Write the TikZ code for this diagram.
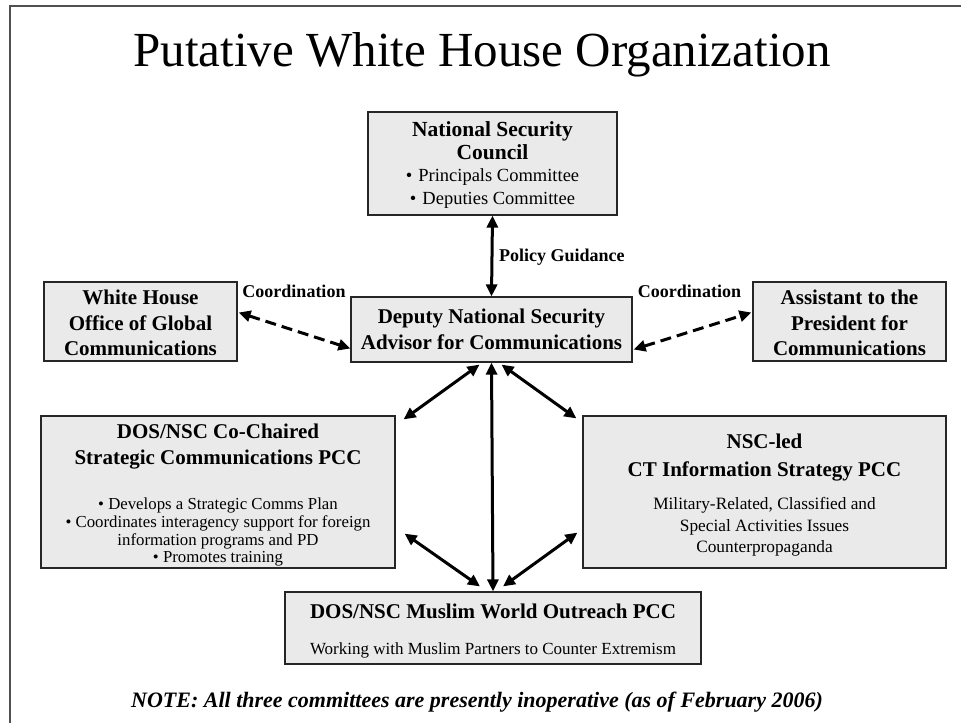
\documentclass[tikz,border=0pt]{standalone}
\usepackage{fontspec}
\setmainfont{Liberation Serif}
\usetikzlibrary{arrows.meta,calc}
\definecolor{boxgray}{HTML}{EAEAEA}
\definecolor{framegray}{HTML}{505050}
\newcommand{\hdf}[2]{\fontsize{#1}{#2}\bfseries\selectfont}
\newcommand{\rgf}[1]{\fontsize{#1}{#1}\mdseries\selectfont}
\begin{document}
\begin{tikzpicture}[x=1pt,y=-1pt,
  box/.style={draw=black!85,line width=1.2pt,fill=boxgray,inner sep=0pt,align=center},
  conn/.style={line width=3pt,{Triangle[length=12pt,width=11pt]}-{Triangle[length=12pt,width=11pt]}},
  dconn/.style={conn,dash pattern=on 11pt off 6pt},
  lbl/.style={font=\fontsize{18}{20}\bfseries\selectfont,inner sep=0pt}]
\useasboundingbox (0,0) rectangle (961,723);
\draw[line width=2pt,draw=framegray] (10,723) -- (10,6) -- (961,6);

\node[font=\fontsize{49}{55}\selectfont,anchor=base,inner sep=0pt] (title) at (482,66) {Putative White House Organization};

\node[box,minimum width=249pt,minimum height=103pt,font=\hdf{21.5}{22.5}] (nsc) at (492.5,163.5)
 {\rule{0pt}{18pt}National Security\\Council\\
  \rgf{18.5}•\hspace{6pt}Principals Committee\\\rgf{18.5}•\hspace{6pt}Deputies Committee};

\node[box,minimum width=281pt,minimum height=65pt,font=\hdf{21}{26}] (dep) at (491.5,329.5)
 {Deputy National Security\\Advisor for Communications};

\node[box,minimum width=193pt,minimum height=79pt,font=\hdf{21}{25.5}] (wh) at (140.5,321.5)
 {\rule{0pt}{18pt}White House\\Office of Global\\Communications};

\node[box,minimum width=193pt,minimum height=79pt,font=\hdf{21}{25.5}] (ap) at (849.5,321.5)
 {\rule{0pt}{18pt}Assistant to the\\President for\\Communications};

\node[box,minimum width=354pt,minimum height=152pt,font=\hdf{21}{17.7}] (str) at (218,492)
 {\rule{0pt}{21pt}DOS/NSC Co-Chaired\\[8.5pt]Strategic Communications PCC\\[27.3pt]
  \rgf{16.8}• Develops a Strategic Comms Plan\\
  \rgf{16.8}• Coordinates interagency support for foreign\\
  \rgf{16.8}information programs and PD\\
  \rgf{16.8}• Promotes training};

\node[box,minimum width=363pt,minimum height=152pt,font=\hdf{21}{21.5}] (ct) at (764.5,492)
 {\rule{0pt}{21pt}NSC-led\\[6pt]CT Information Strategy PCC\\[12pt]
  \rgf{17.3}Military-Related, Classified and\\
  \rgf{17.3}Special Activities Issues\\
  \rgf{17.3}Counterpropaganda};

\node[box,minimum width=416pt,minimum height=72pt,font=\hdf{21}{25}] (mw) at (493,628)
 {\rule{0pt}{21pt}DOS/NSC Muslim World Outreach PCC\\[11pt]
  \rgf{17}Working with Muslim Partners to Counter Extremism};

\node[font=\fontsize{22}{24}\bfseries\itshape\selectfont,inner sep=0pt] (note) at (477,702)
 {NOTE: All three committees are presently inoperative (as of February 2006)};

% connectors
\draw[conn] (nsc.south) -- (dep.north);
\node[lbl,anchor=west] (pg) at (499,257) {Policy Guidance};

\draw[dconn] ($(wh.east)+(1,-9)$) -- ($(dep.west)+(0,19)$);
\node[lbl] (c1) at (294,291) {Coordination};
\draw[dconn] ($(dep.east)+(1,20)$) -- ($(ap.west)+(-1,-9)$);
\node[lbl] (c2) at (689.5,291) {Coordination};

\draw[conn] ($(dep.south)+(-12,2)$) -- ($(str.north east)+(8,4)$);
\draw[conn] ($(dep.south)+(10,2)$) -- ($(ct.north west)+(-6,3)$);
\draw[conn] (dep.south) -- (mw.north);
\draw[conn] ($(str.south east)+(9,-35)$) -- ($(mw.north)+(-13,-5)$);
\draw[conn] ($(ct.south west)+(-5,-36)$) -- ($(mw.north)+(10,-5)$);
\end{tikzpicture}
\end{document}
